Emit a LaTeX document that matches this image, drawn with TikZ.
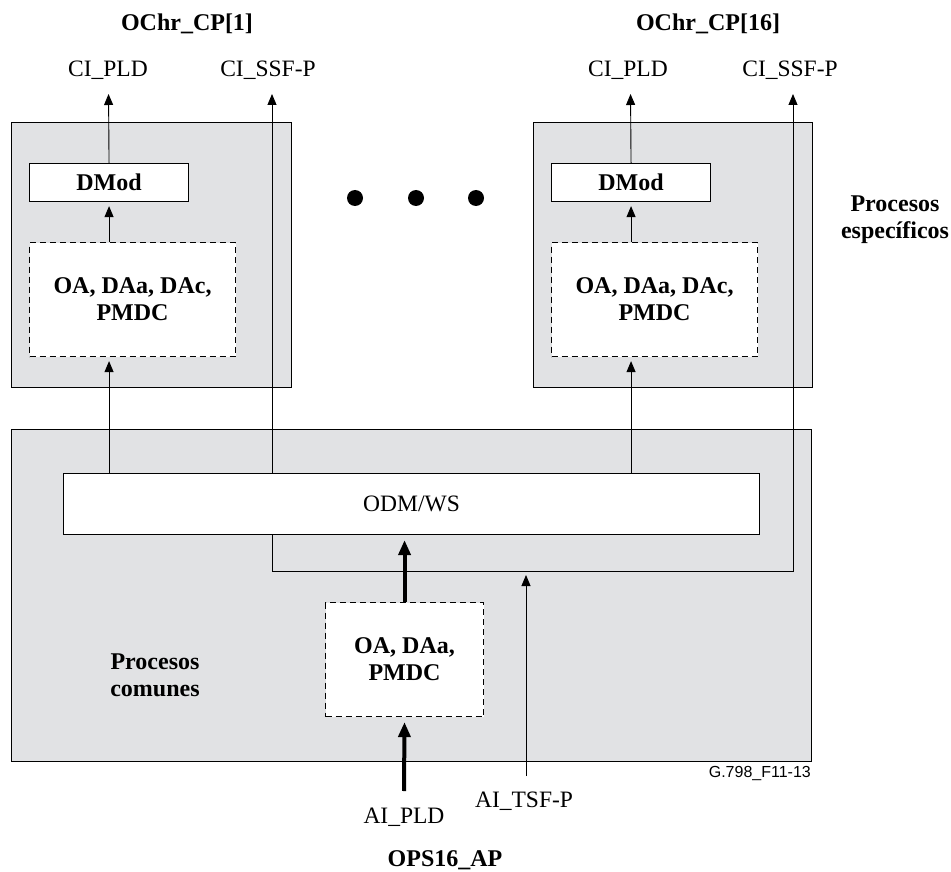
\documentclass[tikz,border=0pt]{standalone}
\usepackage{fontspec}
\setmainfont{Liberation Serif}
\newfontfamily\tagfont{Liberation Sans}
\usetikzlibrary{arrows.meta}
\definecolor{procgray}{RGB}{225,226,228}

\begin{document}
\begin{tikzpicture}[x=1pt,y=-1pt,
  font=\fontsize{23.5}{27}\selectfont,
  bold/.style={font=\fontsize{24}{27}\selectfont\bfseries},
  box/.style={draw,line width=1.1pt,inner sep=0pt,anchor=north west,align=center},
  area/.style={box,fill=procgray},
  fbox/.style={box,fill=white},
  dbox/.style={box,fill=white,dash pattern=on 6pt off 4pt},
  arr/.style={-{Triangle[length=11pt,width=9pt]},line width=0.9pt,shorten >=4pt},
  fat/.style={-{Triangle[length=15pt,width=12pt]},line width=4pt,shorten >=5pt},
  lbl/.style={anchor=base,inner sep=0pt}]
  \useasboundingbox (0,0) rectangle (951,872);
  % process areas
  \node[area,minimum width=280,minimum height=265] (specL) at (11,122) {};
  \node[area,minimum width=279,minimum height=265] (specR) at (533,122) {};
  \node[area,minimum width=800,minimum height=332] (common) at (11,429) {};
  % blocks
  \node[fbox,bold,minimum width=159,minimum height=38] (dmodL) at (29,163) {DMod};
  \node[dbox,bold,minimum width=206,minimum height=114] (dashL) at (29,242) {OA, DAa, DAc,\\PMDC};
  \node[fbox,bold,minimum width=159,minimum height=38] (dmodR) at (551,163) {DMod};
  \node[dbox,bold,minimum width=206,minimum height=114] (dashR) at (551,242) {OA, DAa, DAc,\\PMDC};
  \node[fbox,minimum width=696,minimum height=61] (odm) at (63,473) {ODM/WS};
  \node[dbox,bold,minimum width=158,minimum height=114] (dashC) at (325,602) {OA, DAa,\\PMDC};
  % free ends
  \coordinate (outL) at (108.5,90);
  \coordinate (ssfL) at (272,90);
  \coordinate (outR) at (630.5,90);
  \coordinate (ssfR) at (793,90);
  \coordinate (bus) at (793,571);
  \coordinate (tsf) at (526,776);
  \coordinate (pld) at (404,791);
  % signal flow
  \draw[arr] (dmodL.north) -- (outL);
  \draw[arr] (dashL.north -| dmodL) -- (dmodL.south);
  \draw[arr] (odm.north -| dmodL) -- (dashL.south -| dmodL);
  \draw[arr] (dmodR.north) -- (outR);
  \draw[arr] (dashR.north -| dmodR) -- (dmodR.south);
  \draw[arr] (odm.north -| dmodR) -- (dashR.south -| dmodR);
  \draw[arr] (odm.north -| ssfL) -- (ssfL);
  \draw[arr] (odm.south -| ssfL) |- (bus) -- (ssfR);
  \draw[arr] (tsf) -- (tsf |- bus);
  \draw[fat] (pld) -- (dashC.south);
  \draw[fat] (dashC.north) -- (odm.south -| dashC.north);
  \foreach \d in {355,416,476} \fill (\d,198) circle (8pt);
  % labels
  \node[lbl,bold] (chL) at (187,31) {OChr\_CP[1]};
  \node[lbl,bold] (chR) at (708,31) {OChr\_CP[16]};
  \node[lbl] (ciPldL) at (108,77) {CI\_PLD};
  \node[lbl] (ciSsfL) at (268,77) {CI\_SSF-P};
  \node[lbl] (ciPldR) at (628,77) {CI\_PLD};
  \node[lbl] (ciSsfR) at (790,77) {CI\_SSF-P};
  \node[bold,align=center,inner sep=0pt] (spec) at (895,220) {Procesos\\específicos};
  \node[bold,align=center] (comm) at (155,675) {Procesos\\comunes};
  \node[lbl] (aiPld) at (404,823) {AI\_PLD};
  \node[lbl] (aiTsf) at (524,807) {AI\_TSF-P};
  \node[lbl,bold] (ap) at (445,866) {OPS16\_AP};
  \node[anchor=east,inner sep=0pt,font=\tagfont\fontsize{16}{18}\selectfont] (tag) at (811,773) {G.798\_F11-13};
\end{tikzpicture}
\end{document}
